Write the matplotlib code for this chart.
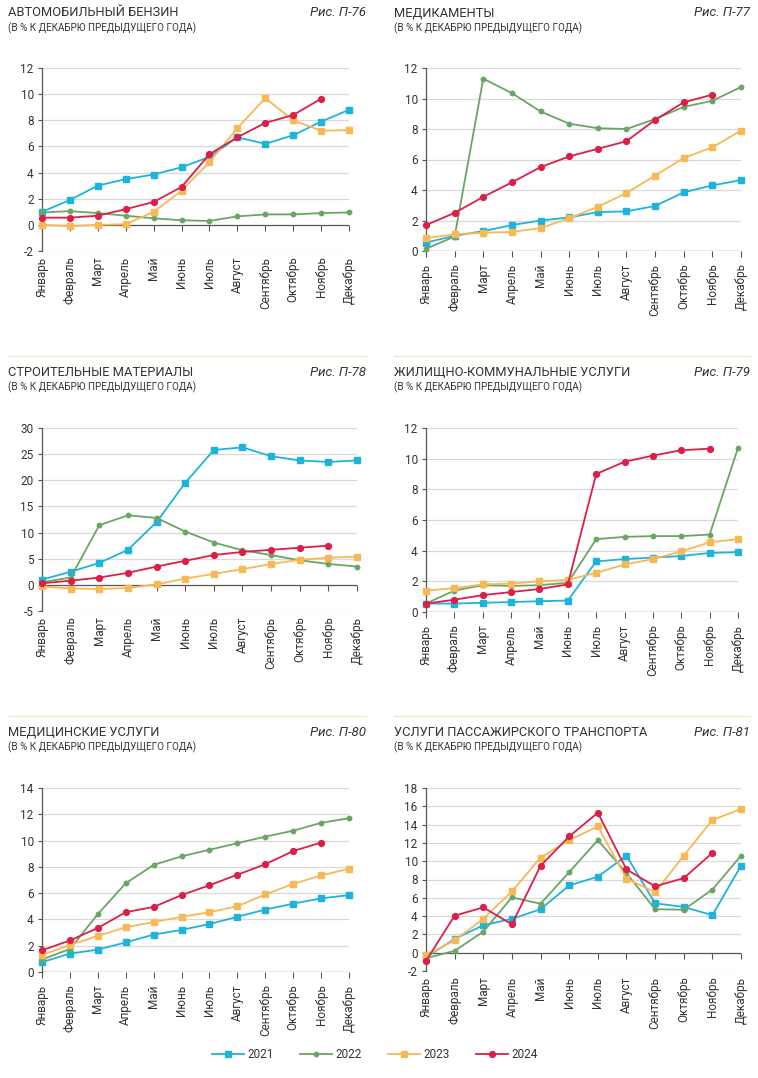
import numpy as np
import matplotlib
matplotlib.use('Agg')
import matplotlib.pyplot as plt
from matplotlib.lines import Line2D

plt.rcParams['font.family'] = ['Roboto', 'DejaVu Sans']

months = ['Январь', 'Февраль', 'Март', 'Апрель', 'Май', 'Июнь', 'Июль',
          'Август', 'Сентябрь', 'Октябрь', 'Ноябрь', 'Декабрь']
years = ['2021', '2022', '2023', '2024']
nan = np.nan

# Автомобильный бензин
benzin_2021 = [1.0, 1.9, 3.0, 3.5, 3.85, 4.4, 5.2, 6.7, 6.2, 6.85, 7.9, 8.8]
benzin_2022 = [0.95, 1.05, 0.9, 0.7, 0.5, 0.35, 0.3, 0.65, 0.8, 0.8, 0.9, 0.95]
benzin_2023 = [0.0, -0.1, 0.0, 0.05, 1.0, 2.6, 4.8, 7.4, 9.7, 8.0, 7.2, 7.25]
benzin_2024 = [0.55, 0.55, 0.7, 1.2, 1.75, 2.9, 5.4, 6.7, 7.8, 8.4, 9.65, nan]

# Медикаменты
med_2021 = [0.55, 1.0, 1.3, 1.7, 2.0, 2.2, 2.55, 2.6, 2.95, 3.85, 4.3, 4.65]
med_2022 = [0.15, 0.95, 11.3, 10.35, 9.15, 8.35, 8.05, 8.0, 8.65, 9.45, 9.85, 10.75]
med_2023 = [0.85, 1.1, 1.2, 1.25, 1.5, 2.15, 2.9, 3.8, 4.95, 6.1, 6.8, 7.9]
med_2024 = [1.7, 2.5, 3.55, 4.5, 5.5, 6.2, 6.7, 7.2, 8.6, 9.75, 10.25, nan]

# Строительные материалы
stroy_2021 = [1.0, 2.5, 4.2, 6.7, 12.0, 19.5, 25.8, 26.3, 24.6, 23.8, 23.5, 23.8]
stroy_2022 = [0.5, 1.4, 11.4, 13.3, 12.8, 10.2, 8.1, 6.6, 5.7, 4.7, 4.0, 3.5]
stroy_2023 = [-0.3, -0.7, -0.8, -0.6, 0.1, 1.2, 2.1, 3.0, 4.0, 4.8, 5.2, 5.4]
stroy_2024 = [0.3, 0.8, 1.4, 2.3, 3.5, 4.6, 5.7, 6.3, 6.7, 7.1, 7.5, nan]

# ЖКУ
zhku_2021 = [0.55, 0.55, 0.6, 0.65, 0.7, 0.75, 3.3, 3.45, 3.55, 3.65, 3.85, 3.9]
zhku_2022 = [0.55, 1.4, 1.75, 1.7, 1.75, 1.9, 4.75, 4.9, 4.95, 4.95, 5.05, 10.7]
zhku_2023 = [1.4, 1.55, 1.8, 1.85, 2.0, 2.1, 2.55, 3.1, 3.45, 3.95, 4.55, 4.75]
zhku_2024 = [0.55, 0.8, 1.1, 1.3, 1.5, 1.8, 9.0, 9.8, 10.2, 10.55, 10.65, nan]

# Медицинские услуги
medusl_2021 = [0.75, 1.4, 1.7, 2.25, 2.85, 3.2, 3.65, 4.2, 4.75, 5.2, 5.6, 5.85]
medusl_2022 = [0.95, 1.75, 4.4, 6.75, 8.15, 8.8, 9.3, 9.8, 10.3, 10.75, 11.35, 11.7]
medusl_2023 = [1.3, 2.05, 2.75, 3.4, 3.8, 4.2, 4.55, 5.0, 5.9, 6.7, 7.35, 7.85]
medusl_2024 = [1.65, 2.4, 3.35, 4.55, 4.95, 5.85, 6.6, 7.4, 8.2, 9.2, 9.85, nan]

# Услуги пассажирского транспорта
trans_2021 = [-0.5, 1.5, 3.0, 3.7, 4.75, 7.35, 8.3, 10.6, 5.4, 5.0, 4.1, 9.5]
trans_2022 = [-0.6, 0.2, 2.3, 6.05, 5.35, 8.8, 12.3, 8.7, 4.75, 4.7, 6.9, 10.6]
trans_2023 = [-0.3, 1.35, 3.7, 6.7, 10.4, 12.3, 13.8, 8.1, 6.6, 10.6, 14.5, 15.7]
trans_2024 = [-0.9, 4.05, 4.95, 3.1, 9.5, 12.7, 15.3, 9.1, 7.25, 8.15, 10.9, nan]

colors = ['#1EB4DA', '#6BA565', '#F7B955', '#DB1F48']
markers = ['s', 'o', 's', 'o']
msizes = [3.8, 3.2, 3.8, 4.2]
text_col = '#333333'

W, H = 758, 1078
fig = plt.figure(figsize=(W / 100, H / 100), dpi=100)


def px_axes(x0, x1, ytop, ybot):
    return fig.add_axes([x0 / W, 1 - ybot / H, (x1 - x0) / W, (ybot - ytop) / H])


def draw_panel(box, series, ylim, step, title, fig_no, title_x, rig_x, title_y):
    ax = px_axes(*box)
    x = np.arange(12)
    for i, s in enumerate(series):
        ax.plot(x, s, color=colors[i], marker=markers[i], markersize=msizes[i],
                linewidth=1.3, clip_on=False, zorder=3 + i)
    ax.set_xlim(0, 11)
    ax.set_ylim(*ylim)
    yt = np.arange(ylim[0], ylim[1] + step / 2, step)
    ax.set_yticks(yt)
    ax.set_yticklabels([str(int(v)) for v in yt], fontsize=8.5, color=text_col)
    for v in yt:
        if v != 0:
            ax.axhline(v, color='#d9d9d9', linewidth=0.9, zorder=1)
    ax.axhline(0, color='#555555', linewidth=0.9, zorder=2)
    # month tick marks hanging from the zero line
    ax.plot(x, np.zeros(12), linestyle='none', marker=3, markersize=4,
            color='#555555', markeredgewidth=0.8, clip_on=False, zorder=2)
    ax.set_xticks(x)
    ax.set_xticklabels(months, rotation=90, fontsize=8.5, color=text_col)
    ax.tick_params(axis='x', length=0, pad=9 if ylim[0] == 0 else 4)
    ax.tick_params(axis='y', length=3, width=0.8, color='#555555', pad=3)
    for sp in ['top', 'right', 'bottom']:
        ax.spines[sp].set_visible(False)
    ax.spines['left'].set_color('#555555')
    ax.spines['left'].set_linewidth(0.9)
    ax.set_facecolor('none')

    fig.text(title_x / W, 1 - title_y / H, title, fontsize=9.3, color=text_col,
             va='center', ha='left')
    fig.text(title_x / W, 1 - (title_y + 15) / H, '(В % К ДЕКАБРЮ ПРЕДЫДУЩЕГО ГОДА)',
             fontsize=7.1, color=text_col, va='center', ha='left')
    fig.text(rig_x / W, 1 - title_y / H, fig_no, fontsize=9.5, color=text_col,
             style='italic', va='center', ha='right')
    return ax


draw_panel((42, 349, 68, 251), [benzin_2021, benzin_2022, benzin_2023, benzin_2024],
           (-2, 12), 2, 'АВТОМОБИЛЬНЫЙ БЕНЗИН', 'Рис. П-76', 8, 366, 13)
draw_panel((426, 741, 68, 251), [med_2021, med_2022, med_2023, med_2024],
           (0, 12), 2, 'МЕДИКАМЕНТЫ', 'Рис. П-77', 394, 750, 13)
draw_panel((42, 357, 428, 611), [stroy_2021, stroy_2022, stroy_2023, stroy_2024],
           (-5, 30), 5, 'СТРОИТЕЛЬНЫЕ МАТЕРИАЛЫ', 'Рис. П-78', 8, 366, 372)
draw_panel((426, 738, 428, 612), [zhku_2021, zhku_2022, zhku_2023, zhku_2024],
           (0, 12), 2, 'ЖИЛИЩНО-КОММУНАЛЬНЫЕ УСЛУГИ', 'Рис. П-79', 394, 750, 372)
draw_panel((42, 349, 788, 972), [medusl_2021, medusl_2022, medusl_2023, medusl_2024],
           (0, 14), 2, 'МЕДИЦИНСКИЕ УСЛУГИ', 'Рис. П-80', 8, 366, 732)
draw_panel((426, 741, 788, 971), [trans_2021, trans_2022, trans_2023, trans_2024],
           (-2, 18), 2, 'УСЛУГИ ПАССАЖИРСКОГО ТРАНСПОРТА', 'Рис. П-81', 394, 750, 732)

# separators between rows
for yy in [356, 716]:
    for xa, xb in [(8, 366), (394, 750)]:
        fig.add_artist(Line2D([xa / W, xb / W], [1 - yy / H, 1 - yy / H],
                              color='#F3E7CF', linewidth=1.0))

handles = [Line2D([], [], color=colors[i], marker=markers[i], markersize=msizes[i],
                  linewidth=1.3) for i in range(4)]
fig.legend(handles, years, loc='center', bbox_to_anchor=(375 / W, 1 - 1055 / H),
           ncol=4, frameon=False, fontsize=8.5, handlelength=2.7, columnspacing=2.2,
           handletextpad=0.3, labelcolor=text_col)

fig.savefig('out.png', dpi=100)
